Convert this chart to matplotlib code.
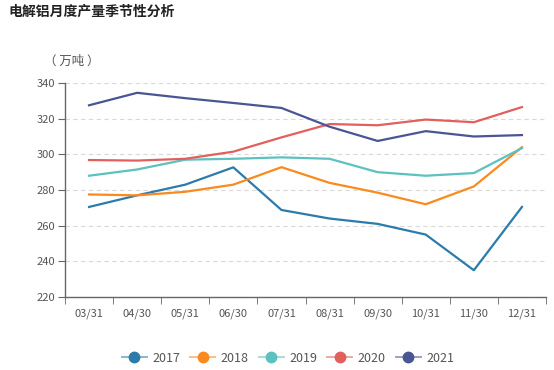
import matplotlib
matplotlib.use("Agg")
import matplotlib.pyplot as plt
import matplotlib.colors as mcolors
import numpy as np

plt.rcParams['font.family'] = ['Noto Sans CJK SC', 'DejaVu Sans']

months = ["03/31", "04/30", "05/31", "06/30", "07/31", "08/31", "09/30", "10/31", "11/30", "12/31"]
years = ["2017", "2018", "2019", "2020", "2021"]
v2017 = [270.5, 277, 283, 292.7, 268.8, 264, 261, 255, 235, 270.5]
v2018 = [277.5, 277, 279, 283, 292.8, 284, 278.5, 272, 282, 304]
v2019 = [288, 291.5, 297, 297.5, 298.3, 297.5, 290, 288, 289.5, 303.5]
v2020 = [296.8, 296.5, 297.5, 301.5, 309.5, 317, 316.3, 319.5, 318, 326.5]
v2021 = [327.5, 334.5, 331.5, 328.8, 326, 315.5, 307.5, 313, 310, 310.8]
series = [v2017, v2018, v2019, v2020, v2021]
colors = ["#2b7bab", "#fb8a1e", "#5cc1bf", "#e1605e", "#4a5593"]

fig = plt.figure(figsize=(5.54, 3.70), dpi=100)
ax = fig.add_axes([65 / 554, 1 - 297 / 370, 481 / 554, 214 / 370])

x = np.arange(len(months))
for name, vals, c in zip(years, series, colors):
    ax.plot(x, vals, color=c, lw=1.6, label=name)

ax.set_xlim(-0.5, len(months) - 0.5)
ax.set_ylim(220, 340)
ax.set_yticks(np.arange(220, 341, 20))
ax.set_xticks(x)
ax.set_xticklabels(months)
ax.set_xticks(np.arange(-0.5, len(months), 1), minor=True)
ax.tick_params(axis="x", which="major", length=0, pad=8, labelsize=8, colors="#555555")
ax.tick_params(axis="x", which="minor", length=5, color="#666666")
ax.tick_params(axis="y", length=5, color="#666666", labelsize=8, labelcolor="#555555", pad=2)

ax.grid(axis="y", color="#d9d9d9", linestyle=(0, (4, 3)), lw=0.8)
ax.set_axisbelow(True)
for s in ["top", "right"]:
    ax.spines[s].set_visible(False)
for s in ["left", "bottom"]:
    ax.spines[s].set_color("#666666")
    ax.spines[s].set_linewidth(1)

fig.text(8 / 554, 1 - 12 / 370, "电解铝月度产量季节性分析", fontsize=10, fontweight="bold",
         color="#222222", va="center", ha="left")
fig.text(44 / 554, 1 - 61 / 370, "（ 万吨 ）", fontsize=9, color="#555555", va="center", ha="left")

handles = []
for c in colors:
    faded = mcolors.to_rgba(c, 0.55)
    handles.append(plt.Line2D([], [], color=faded, lw=1.4, marker="o", markersize=7.5,
                              markerfacecolor=c, markeredgecolor=c))
leg = fig.legend(handles, years, loc="center", bbox_to_anchor=(0.52, 1 - 358 / 370),
                 ncol=5, frameon=False, fontsize=9, handlelength=2.0, columnspacing=0.8,
                 handletextpad=0.45, labelcolor="#555555")

fig.savefig("out.png", dpi=100)
